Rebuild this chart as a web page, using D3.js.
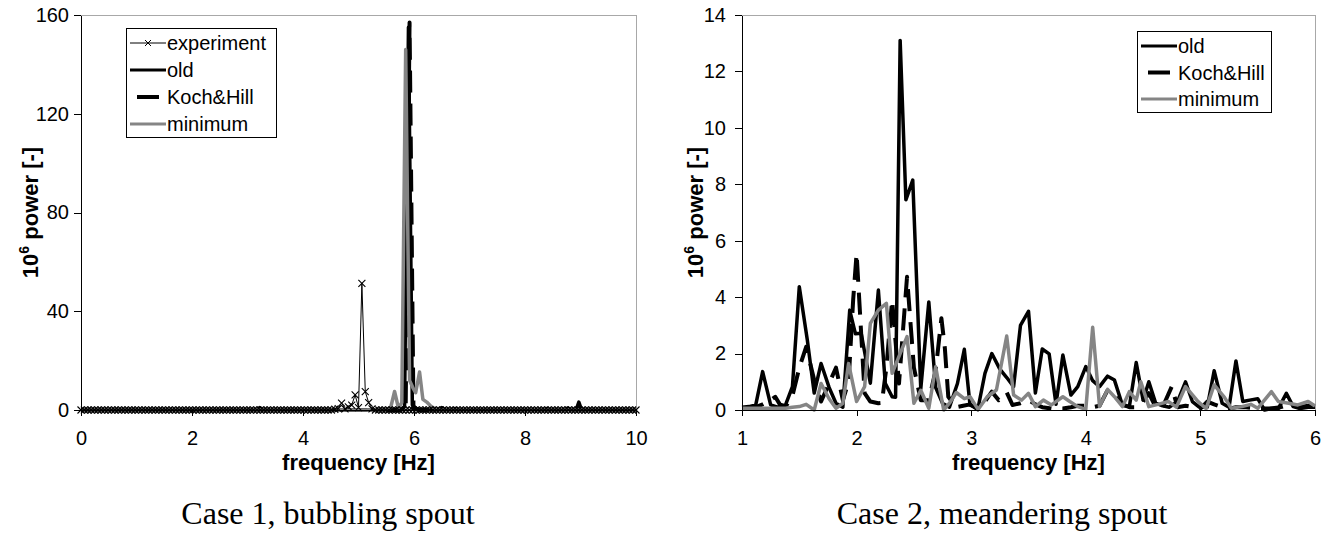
<!DOCTYPE html>
<html lang="en">
<head>
<meta charset="utf-8">
<title>Power spectra - spout cases</title>
<script src="https://cdn.jsdelivr.net/npm/d3@7"></script>
<style>
    body {margin: 0; background: #fff;}
    svg {display: block; background: #fff;}
    .axis path, .axis line {stroke: #000; shape-rendering: crispEdges;}
    .axis text {font-family: "Liberation Sans", Arial, sans-serif; font-size: 20px; fill: #000;}
    .title {font-family: "Liberation Sans", Arial, sans-serif; font-size: 22px; font-weight: bold;}
    .legend text {font-family: "Liberation Sans", Arial, sans-serif; font-size: 20px;}
    .caption {font-family: "Liberation Serif", "Times New Roman", serif; font-size: 32px;}
</style>
</head>
<body>
<script>
// ---- case 1 : bubbling spout ----
// experiment sampled on a regular grid from 0 to 10 Hz (165 samples)
var expStep = 10 / 164;
var expPower = [
    0,0,0,0,0,0,0,0,0,0,0,0,0,0,0,0,0,0,0,0,
    0,0,0,0,0,0,0,0,0,0,0,0,0,0,0,0,0,0,0,0,
    0,0,0,0,0,0,0,0,0,0,0,0,0,0,0,0,0,0,0,0,
    0,0,0,0,0,0,0,0,0,0,0,0,0,0,0,0.3,0.6,2.8,0.5,1.3,
    2.0,6.1,1.0,51.3,7.4,3.0,0.5,0,0,0,0,0,0,0,0,0,0,0,0,0,
    0,0,0,0,0,0,0,0,0,0,0,0,0,0,0,0,0,0,0,0,
    0,0,0,0,0,0,0,0,0,0,0,0,0,0,0,0,0,0,0,0,
    0,0,0,0,0,0,0,0,0,0,0,0,0,0,0,0,0,0,0,0,
    0,0,0,0,0
];
var oldCase1 = [[0,0],[3.17,0],[3.22,1.0],[3.28,0],[5.78,0],[5.83,1.5],[5.9,155],[5.97,2],[6.05,0.5],
    [6.12,0],[6.45,0],[6.5,1.0],[6.55,0],[6.7,0],[6.74,0.6],[6.78,0],[8.34,0],[8.39,0.6],[8.44,0],
    [8.72,0],[8.77,0.8],[8.82,0],[8.92,0],[8.97,3.2],[9.02,0],[10,0]];
var kochCase1 = [[0,0],[5.8,0],[5.85,1],[5.92,157],[5.99,1],[6.05,0.3],[6.1,0],[10,0]];
var minCase1 = [[0,0],[5.5,0],[5.58,1],[5.65,7.5],[5.72,0.8],[5.78,3],[5.85,146],[5.92,12],[5.98,9],
    [6.03,7],[6.1,15.4],[6.16,4.3],[6.23,3.2],[6.3,1.6],[6.38,0.4],[6.45,0],[10,0]];
var xTicks1 = [0, 2, 4, 6, 8, 10];
var yTicks1 = [0, 40, 80, 120, 160];

// ---- case 2 : meandering spout ----
var oldCase2 = [[1.00,0.10],[1.06,0.12],[1.12,0.18],[1.18,1.36],[1.25,0.18],[1.31,0.10],[1.38,0.18],
    [1.44,0.83],[1.50,4.37],[1.57,2.48],[1.63,0.60],[1.69,1.65],[1.76,0.80],[1.82,0.24],[1.88,0.10],
    [1.94,3.54],[1.99,2.70],[2.04,2.72],[2.12,0.95],[2.19,4.25],[2.25,0.95],[2.31,0.47],[2.34,0.45],
    [2.38,13.1],[2.43,7.45],[2.49,8.15],[2.56,0.75],[2.63,3.83],[2.69,0.80],[2.75,0.24],[2.81,0.10],
    [2.88,0.94],[2.94,2.15],[2.99,0.17],[3.06,0.07],[3.12,1.30],[3.18,2.00],[3.25,1.45],[3.31,1.15],
    [3.37,0.83],[3.43,3.00],[3.50,3.50],[3.56,0.60],[3.62,2.16],[3.68,1.99],[3.74,0.20],[3.80,1.95],
    [3.87,0.53],[3.93,0.83],[4.00,1.54],[4.06,1.04],[4.12,0.83],[4.19,1.20],[4.25,1.06],[4.32,0.17],
    [4.38,0.12],[4.44,1.68],[4.50,0.35],[4.55,1.00],[4.61,0.24],[4.67,0.15],[4.73,0.10],[4.80,0.30],
    [4.87,1.00],[4.93,0.30],[4.99,0.10],[5.06,0.10],[5.12,1.39],[5.19,0.24],[5.25,0.10],[5.31,1.74],
    [5.37,0.30],[5.43,0.35],[5.50,0.40],[5.56,0.00],[5.62,0.05],[5.68,0.05],[5.75,0.59],[5.81,0.12],
    [5.87,0.05],[5.94,0.10],[6.00,0.10]];
var kochCase2 = [[1.00,0.06],[1.06,0.06],[1.12,0.10],[1.18,0.20],[1.25,0.35],[1.29,0.47],[1.33,0.20],
    [1.38,0.12],[1.44,0.50],[1.50,1.50],[1.56,2.24],[1.63,1.06],[1.69,0.30],[1.76,0.94],[1.82,1.50],
    [1.88,0.35],[1.93,1.00],[1.97,3.90],[2.00,5.55],[2.04,2.70],[2.07,0.60],[2.12,0.30],[2.19,0.24],
    [2.22,0.25],[2.26,1.50],[2.31,3.90],[2.37,0.94],[2.44,4.72],[2.50,1.50],[2.56,0.35],[2.63,0.35],
    [2.69,1.40],[2.74,3.25],[2.77,2.20],[2.80,0.47],[2.87,0.10],[2.93,0.15],[2.99,0.20],[3.06,0.02],
    [3.12,0.30],[3.18,0.65],[3.24,0.35],[3.31,0.62],[3.36,0.18],[3.43,0.24],[3.50,0.35],[3.56,0.20],
    [3.62,0.10],[3.70,0.05],[3.80,0.05],[3.87,0.10],[3.93,0.15],[4.00,0.15],[4.06,0.10],[4.12,0.15],
    [4.19,0.70],[4.25,0.50],[4.32,0.20],[4.38,0.10],[4.44,0.10],[4.50,0.30],[4.55,0.60],[4.61,0.10],
    [4.67,0.10],[4.75,0.83],[4.80,0.10],[4.87,0.15],[4.94,0.10],[5.00,0.05],[5.06,0.30],[5.12,0.20],
    [5.19,0.10],[5.25,0.05],[5.31,0.10],[5.40,0.10],[5.50,0.05],[5.60,0.05],[5.70,0.10],[5.78,0.20],
    [5.85,0.10],[5.94,0.15],[6.00,0.10]];
var minCase2 = [[1.00,0.06],[1.12,0.06],[1.25,0.06],[1.38,0.06],[1.44,0.10],[1.50,0.12],[1.56,0.20],
    [1.63,0.00],[1.69,0.94],[1.76,0.40],[1.82,0.06],[1.88,0.24],[1.93,1.65],[2.00,0.30],[2.07,0.83],
    [2.12,3.07],[2.19,3.54],[2.26,3.78],[2.31,1.30],[2.37,1.90],[2.44,2.60],[2.50,0.24],[2.56,0.70],
    [2.63,0.06],[2.69,1.53],[2.76,0.00],[2.81,0.24],[2.87,0.62],[2.94,0.40],[2.99,0.47],[3.06,0.02],
    [3.14,0.47],[3.22,0.71],[3.31,2.62],[3.37,0.53],[3.44,0.35],[3.50,0.59],[3.56,0.12],[3.63,0.35],
    [3.70,0.18],[3.80,0.47],[3.86,0.30],[3.93,0.12],[4.00,0.02],[4.06,2.93],[4.12,0.12],[4.19,0.73],
    [4.25,0.47],[4.32,0.12],[4.38,0.65],[4.44,0.35],[4.48,1.00],[4.55,0.12],[4.63,0.20],[4.72,0.30],
    [4.79,0.10],[4.87,0.83],[4.98,0.30],[5.05,0.05],[5.12,0.89],[5.21,0.45],[5.27,0.06],[5.36,0.12],
    [5.44,0.20],[5.50,0.06],[5.62,0.65],[5.68,0.30],[5.77,0.24],[5.85,0.18],[5.94,0.30],[6.00,0.14]];
var xTicks2 = [1, 2, 3, 4, 5, 6];
var yTicks2 = [0, 2, 4, 6, 8, 10, 12, 14];

var w = 1329;
var h = 533;

var svg = d3.select("body")
    .append("svg")
    .attr("width", w)
    .attr("height", h);

var styles = {
    experiment: {stroke: "#000", width: 1, dash: null},
    old: {stroke: "#000", width: 3.5, dash: null},
    koch: {stroke: "#000", width: 4, dash: "22,11"},
    minimum: {stroke: "#858585", width: 3.5, dash: null}
};

function drawPanel(p) {
    var xScale = d3.scaleLinear().domain(p.xDomain).range([p.left, p.right]);
    var yScale = d3.scaleLinear().domain(p.yDomain).range([p.bottom, p.top]);

    // plot area frame (grey, like excel)
    svg.append("rect")
        .attr("x", p.left + 0.5)
        .attr("y", p.top + 0.5)
        .attr("width", p.right - p.left)
        .attr("height", p.bottom - p.top)
        .attr("fill", "none")
        .attr("stroke", "#a8a8a8");

    var line = d3.line()
        .x(function(d) {return xScale(d[0]);})
        .y(function(d) {return yScale(d[1]);});

    p.series.forEach(function(s) {
        var st = styles[s.key];
        svg.append("path")
            .datum(s.data)
            .attr("d", line)
            .attr("fill", "none")
            .attr("stroke", st.stroke)
            .attr("stroke-width", st.width)
            .attr("stroke-linejoin", "round")
            .attr("stroke-dasharray", st.dash);
        if (s.key == "experiment") {
            svg.append("g").selectAll("path")
                .data(s.data)
                .enter()
                .append("path")
                .attr("transform", function(d) {
                    return "translate(" + xScale(d[0]) + "," + yScale(d[1]) + ")";
                })
                .attr("d", "M-3.5,-3.5L3.5,3.5M-3.5,3.5L3.5,-3.5")
                .attr("stroke", "#000")
                .attr("stroke-width", 1.1)
                .attr("fill", "none");
        }
    });

    // axes
    svg.append("g")
        .attr("class", "axis")
        .attr("transform", "translate(0," + p.bottom + ")")
        .call(d3.axisBottom(xScale).tickValues(p.xTicks).tickFormat(d3.format("d"))
            .tickSize(6).tickPadding(15).tickSizeOuter(0));

    svg.append("g")
        .attr("class", "axis")
        .attr("transform", "translate(" + p.left + ",0)")
        .call(d3.axisLeft(yScale).tickValues(p.yTicks).tickFormat(d3.format("d"))
            .tickSize(7).tickPadding(p.yPad).tickSizeOuter(0));

    // axis titles
    svg.append("text")
        .attr("class", "title")
        .attr("x", (p.left + p.right) / 2)
        .attr("y", 470)
        .attr("text-anchor", "middle")
        .text("frequency [Hz]");

    var yt = svg.append("text")
        .attr("class", "title")
        .attr("transform", "translate(" + p.yTitleX + "," + ((p.top + p.bottom) / 2) + ") rotate(-90)")
        .attr("text-anchor", "middle");
    yt.append("tspan").text("10");
    yt.append("tspan").attr("dy", -9).attr("font-size", "14px").text("6");
    yt.append("tspan").attr("dy", 9).text(" power [-]");

    // caption
    svg.append("text")
        .attr("class", "caption")
        .attr("x", p.captionX)
        .attr("y", 524)
        .attr("text-anchor", "middle")
        .text(p.caption);

    // legend
    var lg = svg.append("g").attr("class", "legend");
    lg.append("rect")
        .attr("x", p.legend.x + 0.5)
        .attr("y", p.legend.y + 0.5)
        .attr("width", p.legend.w)
        .attr("height", p.legend.h)
        .attr("fill", "#fff")
        .attr("stroke", "#000");
    p.legend.items.forEach(function(it, i) {
        var st = styles[it.key];
        var cy = p.legend.y + p.legend.first + i * p.legend.step;
        var x0 = p.legend.x + 4;
        var x1 = p.legend.x + 40;
        lg.append("line")
            .attr("x1", it.key == "koch" ? x0 + 7 : x0)
            .attr("x2", it.key == "koch" ? x0 + 29 : x1)
            .attr("y1", cy).attr("y2", cy)
            .attr("stroke", st.stroke)
            .attr("stroke-width", it.key == "koch" ? 4 : Math.min(st.width, 3));
        if (it.key == "experiment") {
            lg.append("path")
                .attr("transform", "translate(" + ((x0 + x1) / 2) + "," + cy + ")")
                .attr("d", "M-3,-3L3,3M-3,3L3,-3")
                .attr("stroke", "#000")
                .attr("fill", "none");
        }
        lg.append("text")
            .attr("x", x1 + 1)
            .attr("y", cy)
            .attr("dy", "0.35em")
            .text(it.label);
    });
}

var expData = expPower.map(function(v, i) {return [i * expStep, v];});

drawPanel({
    xDomain: [0, 10], yDomain: [0, 160],
    left: 81, right: 636, top: 15, bottom: 410,
    xTicks: xTicks1, yTicks: yTicks1, yPad: 5, yTitleX: 38,
    caption: "Case 1, bubbling spout", captionX: 328,
    series: [
        {key: "old", data: oldCase1},
        {key: "koch", data: kochCase1},
        {key: "minimum", data: minCase1},
        {key: "experiment", data: expData}
    ],
    legend: {x: 126, y: 28, w: 150, h: 109, first: 15, step: 27,
        items: [
            {key: "experiment", label: "experiment"},
            {key: "old", label: "old"},
            {key: "koch", label: "Koch&Hill"},
            {key: "minimum", label: "minimum"}
        ]}
});

drawPanel({
    xDomain: [1, 6], yDomain: [0, 14],
    left: 742, right: 1315, top: 15, bottom: 410,
    xTicks: xTicks2, yTicks: yTicks2, yPad: 9, yTitleX: 703,
    caption: "Case 2, meandering spout", captionX: 1002,
    series: [
        {key: "old", data: oldCase2},
        {key: "koch", data: kochCase2},
        {key: "minimum", data: minCase2}
    ],
    legend: {x: 1137, y: 31, w: 134, h: 81, first: 15, step: 26.5,
        items: [
            {key: "old", label: "old"},
            {key: "koch", label: "Koch&Hill"},
            {key: "minimum", label: "minimum"}
        ]}
});
</script>
</body>
</html>
